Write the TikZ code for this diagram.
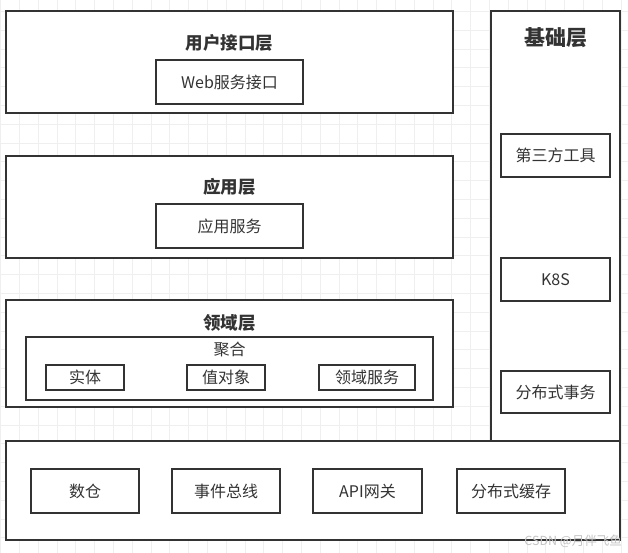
\documentclass[tikz,border=0pt]{standalone}
\usepackage{fontspec}
\setmainfont{Noto Sans CJK SC}
\newfontfamily\cjk{Noto Sans CJK SC}
\definecolor{ink}{HTML}{333333}
\definecolor{gridc}{HTML}{EFEFEF}
\definecolor{wm}{HTML}{C4C4C4}
\begin{document}
\begin{tikzpicture}[x=1pt,y=-1pt,
  layer/.style={draw=ink, line width=2pt, fill=white, inner sep=0pt, rectangle},
  itembox/.style={draw=ink, line width=2pt, fill=white, inner sep=0pt, rectangle,
     font=\cjk\fontsize{16}{16}\selectfont, text=ink},
  titletext/.style={font=\cjk\bfseries\fontsize{17.5}{17.5}\selectfont, text=ink, inner sep=0pt},
  bigtitle/.style={font=\cjk\bfseries\fontsize{21}{21}\selectfont, text=ink, inner sep=0pt},
  labeltext/.style={font=\cjk\fontsize{16}{16}\selectfont, text=ink, inner sep=0pt},
  gridline/.style={draw=gridc, line width=0.7pt}]
\useasboundingbox (0,0) rectangle (628,553);
\fill[white] (0,0) rectangle (628,553);
% background grid
\begin{scope}
\clip (0,0) rectangle (628,553);
\foreach \k in {0,...,33} { \draw[gridline] (0.5+18.8*\k,0) -- (0.5+18.8*\k,553); }
\foreach \k in {0,...,30} { \draw[gridline] (0,-7.5+18.8*\k) -- (628,-7.5+18.8*\k); }
\end{scope}
% Layer 1
\node[layer, minimum width=447pt, minimum height=102pt] (ui) at (229.5,62) {};
\node[titletext] (uiT) at (229.5,43) {用户接口层};
\node[itembox, minimum width=147pt, minimum height=44pt] (web) at (229.5,82) {Web服务接口};
% Layer 2
\node[layer, minimum width=447pt, minimum height=102pt] (app) at (229.5,207) {};
\node[titletext] (appT) at (229.5,187) {应用层};
\node[itembox, minimum width=147pt, minimum height=44pt] (appS) at (229.5,226) {应用服务};
% Layer 3
\node[layer, minimum width=447pt, minimum height=107pt] (dom) at (229.5,353.5) {};
\node[titletext] (domT) at (229.5,323) {领域层};
\node[layer, minimum width=407pt, minimum height=63pt] (agg) at (229.5,368.5) {};
\node[labeltext] (aggT) at (229.5,349) {聚合};
\node[itembox, minimum width=78pt, minimum height=25pt] (ent) at (85,377.5) {实体};
\node[itembox, minimum width=78pt, minimum height=25pt] (vo) at (226,377.5) {值对象};
\node[itembox, minimum width=96pt, minimum height=25pt] (dsv) at (367,377.5) {领域服务};
% Infrastructure (right)
\node[layer, minimum width=129pt, minimum height=430pt] (inf) at (555.5,226) {};
\node[bigtitle] (infT) at (555.5,38) {基础层};
\node[itembox, minimum width=109pt, minimum height=43pt] (tool) at (555.5,155.5) {第三方工具};
\node[itembox, minimum width=109pt, minimum height=43pt] (k8s) at (555.5,279.5) {K8S};
\node[itembox, minimum width=109pt, minimum height=42pt] (dtx) at (555.5,392) {分布式事务};
% Bottom
\node[layer, minimum width=614pt, minimum height=99pt] (bot) at (313,490.5) {};
\node[itembox, minimum width=108pt, minimum height=44pt] (dw) at (85,491) {数仓};
\node[itembox, minimum width=108pt, minimum height=44pt] (bus) at (226,491) {事件总线};
\node[itembox, minimum width=109pt, minimum height=44pt] (gw) at (367.5,491) {API网关};
\node[itembox, minimum width=108pt, minimum height=44pt] (cache) at (511,491) {分布式缓存};
% watermark
\node[font=\cjk\fontsize{12.5}{12.5}\selectfont, text=wm, anchor=east, inner sep=0pt] (wmk) at (622,541) {CSDN @月伴飞鱼};
\end{tikzpicture}
\end{document}
